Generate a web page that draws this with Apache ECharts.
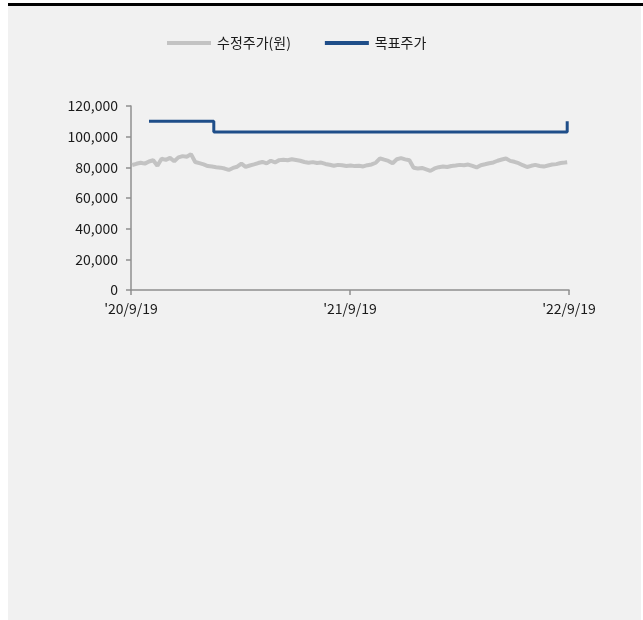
<!DOCTYPE html>
<html>
<head>
<meta charset="utf-8">
<script src="https://cdn.jsdelivr.net/npm/echarts@6/dist/echarts.min.js"></script>
<style>
  html, body { margin: 0; padding: 0; background: #ffffff; }
  #topline { position: absolute; left: 8px; top: 3px; width: 635px; height: 3px; background: #000; }
  #panel { position: absolute; left: 8px; top: 6px; width: 633px; height: 614px; background: #f1f1f1; }
  #chart { position: absolute; left: 0; top: 0; width: 643px; height: 620px; }
</style>
</head>
<body>
<div id="topline"></div>
<div id="panel"></div>
<div id="chart"></div>
<script>
// ---- data ----
const startDate = '2020-09-19';
const xTickLabels = ["'20/9/19", "'21/9/19", "'22/9/19"];
const seriesNames = ['수정주가(원)', '목표주가'];

const priceDates = [
  '2020-09-21','2020-09-28','2020-10-05','2020-10-12','2020-10-19','2020-10-26','2020-11-02','2020-11-09','2020-11-16','2020-11-23','2020-11-30','2020-12-07','2020-12-14','2020-12-21','2020-12-28',
  '2021-01-04','2021-01-11','2021-01-18','2021-01-25','2021-02-01','2021-02-08','2021-02-15','2021-02-22','2021-03-01','2021-03-08','2021-03-15','2021-03-22','2021-03-29','2021-04-05','2021-04-12','2021-04-19','2021-04-26','2021-05-03','2021-05-10','2021-05-17','2021-05-24','2021-05-31','2021-06-07','2021-06-14','2021-06-21','2021-06-28','2021-07-05','2021-07-12','2021-07-19','2021-07-26','2021-08-02','2021-08-09','2021-08-16','2021-08-23','2021-08-30','2021-09-06','2021-09-13','2021-09-20','2021-09-27','2021-10-04','2021-10-11','2021-10-18','2021-10-25','2021-11-01','2021-11-08','2021-11-15','2021-11-22','2021-11-29','2021-12-06','2021-12-13','2021-12-20','2021-12-27',
  '2022-01-03','2022-01-10','2022-01-17','2022-01-24','2022-01-31','2022-02-07','2022-02-14','2022-02-21','2022-02-28','2022-03-07','2022-03-14','2022-03-21','2022-03-28','2022-04-04','2022-04-11','2022-04-18','2022-04-25','2022-05-02','2022-05-09','2022-05-16','2022-05-23','2022-05-30','2022-06-06','2022-06-13','2022-06-20','2022-06-27','2022-07-04','2022-07-11','2022-07-18','2022-07-25','2022-08-01','2022-08-08','2022-08-15','2022-08-22','2022-08-29','2022-09-05','2022-09-12','2022-09-16'
];
const priceValues = [
  81500, 82300, 83000, 82400, 83800, 84600, 81000, 85600, 84900, 86200, 84000, 86500, 87300, 86900, 88600,
  83500, 82700, 81900, 80800, 80500, 80100, 79800, 79200, 78300, 79600, 80400, 82400, 80300, 81200, 81900, 82800, 83500, 82600, 84300, 83200, 84700, 85000, 84600, 85300, 84800, 84300, 83500, 83000, 83400, 82800, 83100, 82200, 81700, 81000, 81600, 81300, 80900, 81200, 80800, 81000, 80600, 81400, 81900, 83000, 85900, 85000, 84200, 82700, 85300, 86000, 85200, 84600,
  79700, 79300, 79600, 78700, 77700, 79300, 80100, 80600, 80200, 80900, 81200, 81600, 81300, 81800, 80900, 79900, 81400, 82000, 82700, 83200, 84300, 85100, 85800, 84200, 83600, 82700, 81400, 80200, 81000, 81600, 80900, 80500, 81200, 81800, 82100, 82800, 83100, 83300
];

const targetDates = ['2020-10-19', '2021-02-04', '2022-09-16'];
const targetValues = [110000, 103000, 110000];

// ---- helpers ----
const DAY = 86400000;
const t0 = Date.parse(startDate + 'T00:00:00Z');
function dayOffset(d) { return Math.round((Date.parse(d + 'T00:00:00Z') - t0) / DAY); }
const priceData = priceDates.map((d, i) => [dayOffset(d), priceValues[i]]);
const targetData = targetDates.map((d, i) => [dayOffset(d), targetValues[i]]);

const FONT = '"Noto Sans CJK KR", "Noto Sans", sans-serif';
const axisColor = '#8f8f8f';
const textColor = '#1a1a1a';
const grayColor = '#c3c3c3';
const blueColor = '#1f4e89';

const chart = echarts.init(document.getElementById('chart'), null, { renderer: 'canvas' });
chart.setOption({
  backgroundColor: 'transparent',
  animation: false,
  textStyle: { fontFamily: FONT },
  legend: {
    left: 162,
    top: 31,
    itemWidth: 44,
    itemHeight: 4,
    itemGap: 34,
    icon: 'rect',
    textStyle: { fontSize: 14, color: textColor, fontFamily: FONT, padding: [0, 0, 0, 1] },
    data: [
      { name: seriesNames[0], itemStyle: { color: grayColor } },
      { name: seriesNames[1], itemStyle: { color: blueColor } }
    ]
  },
  grid: { left: 131, right: 74, top: 106, bottom: 330, containLabel: false },
  xAxis: {
    type: 'value',
    min: 0,
    max: 730,
    interval: 365,
    splitLine: { show: false },
    axisLine: { lineStyle: { color: axisColor, width: 1.5 } },
    axisTick: { show: true, length: 5, lineStyle: { color: axisColor, width: 1.5 } },
    axisLabel: {
      margin: 12,
      fontSize: 14,
      color: textColor,
      fontFamily: FONT,
      formatter: function (v) { return xTickLabels[Math.round(v / 365)] || ''; }
    }
  },
  yAxis: {
    type: 'value',
    min: 0,
    max: 120000,
    interval: 20000,
    splitLine: { show: false },
    axisLine: { show: true, lineStyle: { color: axisColor, width: 1.5 } },
    axisTick: { show: true, length: 5, lineStyle: { color: axisColor, width: 1.5 } },
    axisLabel: {
      margin: 13,
      fontSize: 14,
      color: textColor,
      fontFamily: FONT,
      formatter: function (v) { return v.toLocaleString('en-US'); }
    }
  },
  series: [
    {
      name: seriesNames[0],
      type: 'line',
      data: priceData,
      symbol: 'none',
      lineStyle: { color: grayColor, width: 4 },
      itemStyle: { color: grayColor }
    },
    {
      name: seriesNames[1],
      type: 'line',
      data: targetData,
      step: 'end',
      symbol: 'none',
      lineStyle: { color: blueColor, width: 3 },
      itemStyle: { color: blueColor }
    }
  ]
});
</script>
</body>
</html>
